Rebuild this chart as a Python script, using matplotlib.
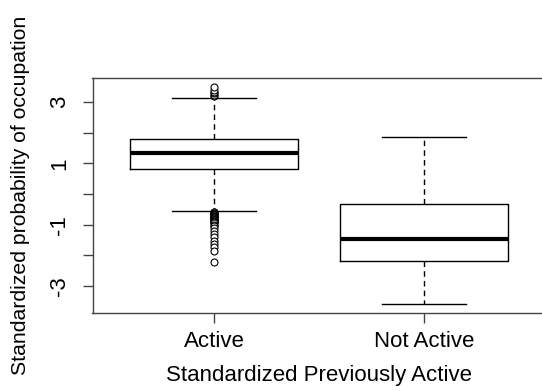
import matplotlib
matplotlib.use("Agg")
import matplotlib.pyplot as plt

# group labels and five-number summaries
groups = ["Active", "Not Active"]
whisker_low = [-0.56, -3.60]
q1 = [0.83, -2.20]
median = [1.34, -1.47]
q3 = [1.79, -0.34]
whisker_high = [3.13, 1.86]

# outliers (Active only) - dense run just under the lower whisker
active_outliers = [
    3.20, 3.24, 3.28, 3.33, 3.40, 3.48,
    -0.58, -0.60, -0.62, -0.64, -0.66, -0.68, -0.70, -0.72, -0.74, -0.76,
    -0.78, -0.80, -0.82, -0.84, -0.86, -0.88, -0.90, -0.93, -0.96,
    -1.00, -1.05, -1.12, -1.22, -1.32, -1.42, -1.54, -1.64, -1.74, -1.86, -2.21,
]
not_active_outliers = []
fliers = [active_outliers, not_active_outliers]

y_ticks = [-3, -2, -1, 0, 1, 2, 3]
y_ticklabels = ["-3", "", "-1", "", "1", "", "3"]

plt.rcParams["font.family"] = ["Liberation Sans", "DejaVu Sans"]

fig = plt.figure(figsize=(5.42, 3.91), dpi=100)
ax = fig.add_axes([92.5 / 542, 1 - 313 / 391, 453.5 / 542, 235 / 391])

stats = []
for i, g in enumerate(groups):
    stats.append({
        "label": g,
        "whislo": whisker_low[i],
        "q1": q1[i],
        "med": median[i],
        "q3": q3[i],
        "whishi": whisker_high[i],
        "fliers": fliers[i],
    })

ax.bxp(
    stats,
    positions=[1, 2],
    widths=0.8,
    showfliers=True,
    boxprops=dict(color="black", linewidth=1),
    medianprops=dict(color="black", linewidth=3, solid_capstyle="butt"),
    whiskerprops=dict(color="black", linewidth=1, linestyle=(0, (4, 3))),
    capprops=dict(color="black", linewidth=1),
    capwidths=0.4,
    flierprops=dict(marker="o", markerfacecolor="white", markeredgecolor="black",
                    markersize=5, markeredgewidth=0.8),
)

ax.set_xlim(0.42, 2.58)
ax.set_ylim(-3.884, 3.784)
ax.set_yticks(y_ticks)
ax.set_yticklabels(y_ticklabels, rotation=90, va="center", fontsize=16)
ax.set_xticks([1, 2])
ax.set_xticklabels(groups, fontsize=16)
ax.tick_params(axis="both", length=7, width=1, color="#444444")
ax.tick_params(axis="x", pad=6)
ax.tick_params(axis="y", pad=9)

for s in ax.spines.values():
    s.set_color("#444444")
    s.set_linewidth(1)

ax.set_xlabel("Standardized Previously Active", fontsize=16, labelpad=9)
ax.set_ylabel("Standardized probability of occupation", fontsize=15.3, labelpad=14)

fig.savefig("out.png", dpi=100)
